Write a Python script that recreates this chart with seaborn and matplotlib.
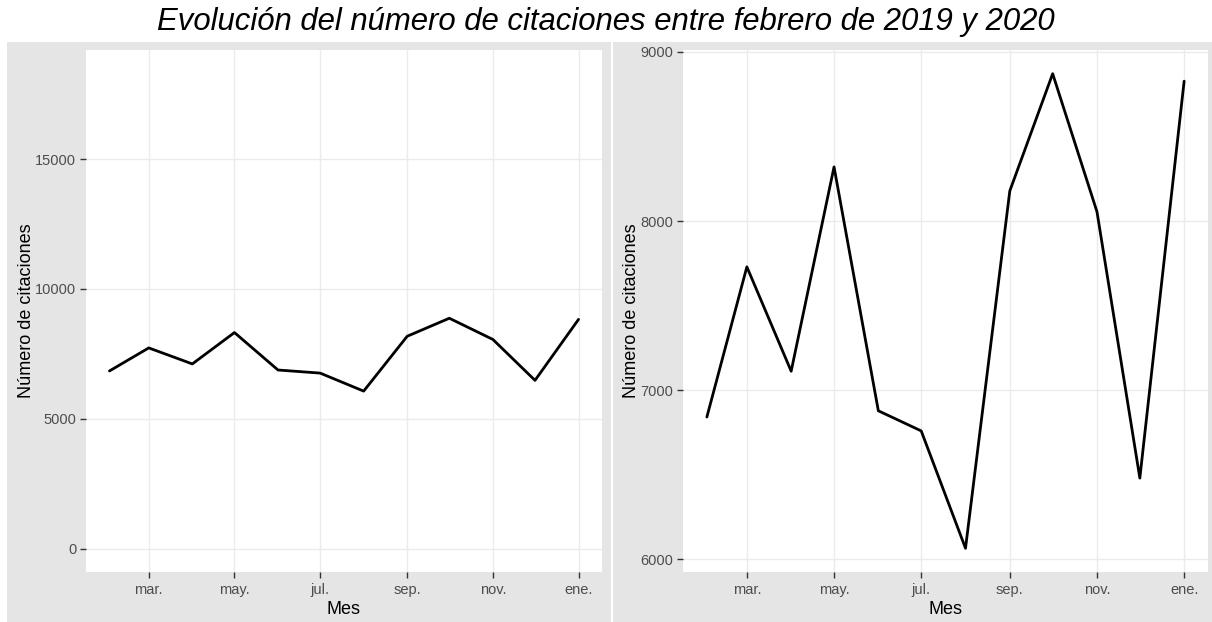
import matplotlib
matplotlib.use("Agg")
import matplotlib.pyplot as plt
from matplotlib.patches import Rectangle
import pandas as pd
import seaborn as sns

# data: monthly number of citations, Feb 2019 - Jan 2020
months = pd.date_range("2019-02-01", "2020-01-01", freq="MS")
citaciones = [6841, 7729, 7112, 8320, 6878, 6759, 6065, 8178, 8871, 8055, 6480, 8827]

tick_dates = pd.to_datetime(["2019-03-01", "2019-05-01", "2019-07-01",
                             "2019-09-01", "2019-11-01", "2020-01-01"])
tick_labels = ["mar.", "may.", "jul.", "sep.", "nov.", "ene."]
left_yticks = [0, 5000, 10000, 15000]
right_yticks = [6000, 7000, 8000, 9000]

title = "Evolución del número de citaciones entre febrero de 2019 y 2020"

df = pd.DataFrame({"Mes": months, "citaciones": citaciones})

sns.set_theme(style="white")
plt.rcParams["font.family"] = ["Liberation Sans", "DejaVu Sans"]

W, H = 1212, 622
fig = plt.figure(figsize=(W / 100, H / 100), dpi=100)
fig.patch.set_facecolor("white")

BG = "#e5e5e5"
# grey plot backgrounds (ggplot style), behind the axes
for x0, x1 in [(7, 611), (613, W)]:
    fig.patches.append(Rectangle((x0 / W, 0), (x1 - x0) / W, (622 - 42) / H,
                                 transform=fig.transFigure, facecolor=BG,
                                 edgecolor="none", zorder=-5))

ax_l = fig.add_axes([86 / W, (622 - 572) / H, (602 - 86) / W, (572 - 50) / H])
ax_r = fig.add_axes([683 / W, (622 - 572) / H, (1208 - 683) / W, (572 - 50) / H])

for ax in (ax_l, ax_r):
    sns.lineplot(data=df, x="Mes", y="citaciones", ax=ax, color="black", lw=2.0)
    ax.set_facecolor("white")
    for s in ax.spines.values():
        s.set_visible(False)
    ax.grid(True, color="#ebebeb", lw=1.0)
    ax.set_axisbelow(True)
    ax.set_xticks(tick_dates)
    ax.set_xticklabels(tick_labels)
    ax.tick_params(axis="both", which="major", length=4, width=1, color="#333333",
                   labelcolor="#4d4d4d", labelsize=10.5, pad=3, bottom=True, left=True)
    ax.tick_params(axis="x", pad=4)
    ax.set_xlabel("Mes", fontsize=13, color="black", labelpad=3)
    ax.set_ylabel("Número de citaciones", fontsize=13, color="black", labelpad=0)

pad = pd.Timedelta(days=16.7)
ax_l.set_xlim(months[0] - pad, months[-1] + pad)
ax_r.set_xlim(months[0] - pad, months[-1] + pad)

ax_l.set_yticks(left_yticks)
ax_l.set_ylim(-900, 19200)
ax_r.set_yticks(right_yticks)

fig.text(0.5, 0.965, title, ha="center", va="center", fontsize=22.4,
         style="italic", color="black")

fig.savefig("out.png", dpi=100)
